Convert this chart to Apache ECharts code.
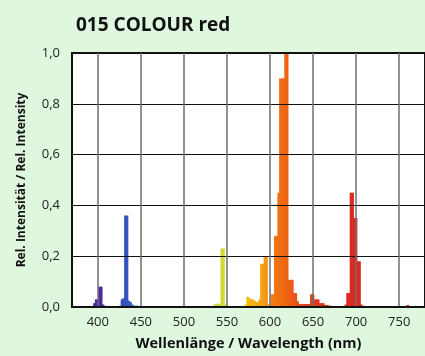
<!DOCTYPE html>
<html>
<head>
<meta charset="utf-8">
<script src="https://cdn.jsdelivr.net/npm/echarts@6/dist/echarts.min.js"></script>
<style>
  html, body { margin: 0; padding: 0; background: #dff7df; }
  #chart { width: 425px; height: 356px; }
</style>
</head>
<body>
<div id="chart"></div>
<script>
// Emission spectrum of the lamp, relative intensity per 2 nm bin
const chartTitle = '015 COLOUR red';
const xAxisName = 'Wellenlänge / Wavelength (nm)';
const yAxisName = 'Rel. Intensität / Rel. Intensity';
const binWidth = 2;
const xTickValues = [400, 450, 500, 550, 600, 650, 700, 750];

const wavelengths = [
  396, 398, 400, 402, 404, 406, 408,
  426, 428, 430, 432, 434, 436, 438, 440,
  442, 444, 446, 448, 450, 452, 454, 456, 458, 460, 462, 464, 466, 468, 470,
  536, 538, 540, 542, 544, 546, 548, 550,
  572, 574, 576, 578, 580, 582, 584, 586, 588, 590, 592, 594, 596, 598,
  600, 602, 604, 606, 608, 610, 612, 614, 616, 618, 620, 622, 624, 626,
  628, 630, 632, 634, 636, 638, 640, 642, 644, 646, 648, 650, 652, 654,
  656, 658, 660, 662, 664, 666, 668, 670,
  688, 690, 692, 694, 696, 698, 700, 702, 704, 706, 708,
  760
];
const intensities = [
  0.015, 0.03, 0.03, 0.08, 0.08, 0.01, 0.005,
  0.005, 0.03, 0.035, 0.36, 0.36, 0.025, 0.02, 0.01,
  0.005, 0.005, 0.005, 0.004, 0.004, 0.004, 0.004, 0.004, 0.004, 0.003, 0.003, 0.003, 0.003, 0.003, 0.003,
  0.01, 0.012, 0.014, 0.01, 0.23, 0.23, 0.01, 0.005,
  0.01, 0.04, 0.035, 0.03, 0.03, 0.025, 0.02, 0.02, 0.03, 0.17, 0.17, 0.2, 0.2, 0.01,
  0.01, 0.05, 0.05, 0.28, 0.28, 0.45, 0.9, 0.9, 0.9, 1.0, 1.0, 0.107, 0.107, 0.107,
  0.055, 0.055, 0.023, 0.012, 0.012, 0.012, 0.012, 0.012, 0.012, 0.012, 0.05, 0.05, 0.03, 0.03,
  0.03, 0.015, 0.015, 0.015, 0.008, 0.008, 0.006, 0.005,
  0.01, 0.055, 0.055, 0.45, 0.45, 0.35, 0.35, 0.18, 0.18, 0.01, 0.005,
  0.008
];

// Colour of each bin follows its wavelength
const colourStops = [
  [380, [80, 40, 150]], [405, [75, 42, 160]], [425, [55, 70, 185]],
  [440, [50, 95, 195]], [480, [90, 140, 190]], [520, [160, 200, 80]],
  [546, [212, 218, 48]], [572, [246, 190, 10]], [592, [245, 160, 20]],
  [605, [240, 122, 18]], [618, [238, 102, 16]], [632, [232, 80, 26]],
  [650, [224, 56, 31]], [690, [221, 42, 34]], [780, [210, 32, 30]]
];
function spectrumColour(nm) {
  for (let i = 1; i < colourStops.length; i++) {
    const [a, ca] = colourStops[i - 1];
    const [b, cb] = colourStops[i];
    if (nm <= b) {
      const t = Math.max(0, (nm - a) / (b - a));
      const c = ca.map((v, k) => Math.round(v + (cb[k] - v) * t));
      return 'rgb(' + c.join(',') + ')';
    }
  }
  const c = colourStops[colourStops.length - 1][1];
  return 'rgb(' + c.join(',') + ')';
}

const seriesData = wavelengths.map((nm, i) => [nm, intensities[i]]);
const fontFamily = '"Open Sans", "Noto Sans", sans-serif';

const chart = echarts.init(document.getElementById('chart'), null, { renderer: 'canvas' });
chart.setOption({
  backgroundColor: '#dff7df',
  animation: false,
  title: {
    text: chartTitle,
    left: 71,
    top: 11,
    textStyle: { fontFamily, fontSize: 19, fontWeight: 'bold', color: '#111' }
  },
  grid: {
    left: 72,
    top: 53,
    bottom: 45,
    width: 365,
    show: true,
    backgroundColor: '#ffffff',
    borderColor: '#111',
    borderWidth: 2
  },
  xAxis: {
    type: 'value',
    min: 370,
    max: 780,
    z: 5,
    name: xAxisName,
    nameLocation: 'middle',
    nameGap: 29,
    nameTextStyle: { fontFamily, fontSize: 14.5, fontWeight: 'bold', color: '#111' },
    axisLine: { show: true, lineStyle: { color: '#111', width: 2 } },
    axisTick: { show: false, customValues: xTickValues },
    axisLabel: { customValues: xTickValues, fontFamily, fontSize: 13, color: '#222', margin: 9 },
    splitLine: { show: true, lineStyle: { color: '#6e6e6e', width: 1.5 } }
  },
  yAxis: {
    type: 'value',
    min: 0,
    max: 1,
    interval: 0.2,
    z: 5,
    name: yAxisName,
    nameLocation: 'middle',
    nameGap: 44,
    nameTextStyle: { fontFamily, fontSize: 12, fontWeight: 'bold', color: '#111' },
    axisLine: { show: true, lineStyle: { color: '#111', width: 2 } },
    axisTick: { show: false },
    axisLabel: {
      fontFamily, fontSize: 13, color: '#222', margin: 12,
      formatter: v => v.toFixed(1).replace('.', ',')
    },
    splitLine: { show: true, lineStyle: { color: '#111', width: 1 } }
  },
  series: [{
    type: 'custom',
    clip: true,
    z: 2,
    data: seriesData,
    renderItem(params, api) {
      const nm = api.value(0);
      const v = api.value(1);
      const top = api.coord([nm - binWidth / 2, v]);
      const base = api.coord([nm + binWidth / 2, 0]);
      // slight overlap so neighbouring bins merge without seams
      return {
        type: 'rect',
        shape: { x: top[0] - 0.4, y: top[1], width: base[0] - top[0] + 0.8, height: base[1] - top[1] },
        style: { fill: spectrumColour(nm) }
      };
    }
  }]
});
</script>
</body>
</html>
